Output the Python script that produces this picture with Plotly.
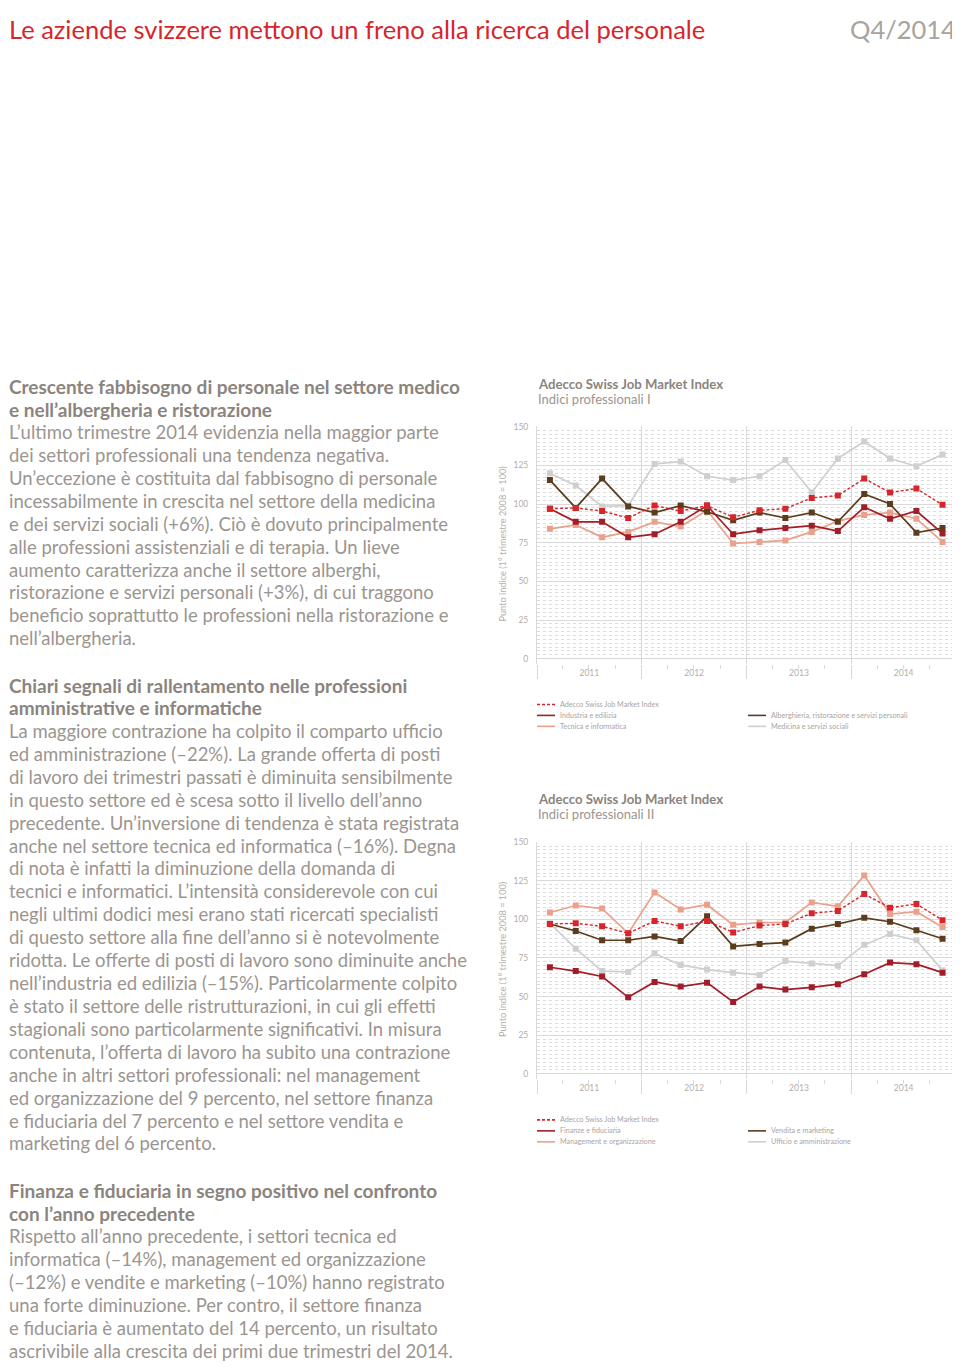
import plotly.graph_objects as go

# page offset compensation (browser body margin)
OX, OY = 8, 8
W, H = 960 - OX, 1366 - OY
def px(x): return (x - OX) / W
def py(y): return 1 - (y - OY) / H

# ---------------- data ----------------
quarters = ["2011-02-15", "2011-05-16", "2011-08-16", "2011-11-15",
            "2012-02-15", "2012-05-16", "2012-08-16", "2012-11-15",
            "2013-02-15", "2013-05-16", "2013-08-16", "2013-11-15",
            "2014-02-15", "2014-05-16", "2014-08-16", "2014-11-15"]

index_total = [97, 97.5, 95.5, 91, 99, 95.5, 99, 91.5, 96, 97, 104, 105.5, 116.5, 107.5, 110, 99.5]

industria = [97, 88.5, 88.5, 78.5, 80.5, 88.5, 99, 80.5, 83, 84.5, 86, 82.5, 98, 90.5, 95.5, 81]
tecnica = [84, 86.5, 78.5, 82, 88.5, 85.5, 96, 74.5, 75.5, 76.5, 82, 89, 93, 94.5, 90.5, 75.5]
alberghieria = [115.5, 97.5, 116.5, 98.5, 94.5, 99, 95, 89.5, 94.5, 91, 94.5, 88.5, 106.5, 100, 81.5, 84.5]
medicina = [120, 112, 98.5, 99, 126, 127.5, 118, 115.5, 118, 128.5, 107.5, 129.5, 140.5, 129.5, 124.5, 132]

finanze = [69, 66.5, 63, 49.5, 59.5, 56.5, 59, 46.5, 56.5, 54.5, 56, 58, 64.5, 72, 71, 65.5]
management = [104.5, 109, 107, 91, 117.5, 106.5, 109.5, 96.5, 98, 98, 111, 108.5, 128.5, 103.5, 105, 95]
vendita = [97, 92.5, 86.5, 86.5, 89, 86, 102, 82.5, 84, 85, 94, 97, 101, 98.5, 93, 87.5]
ufficio = [97.5, 81, 66.5, 66, 78, 70.5, 67.5, 65.5, 64, 73, 71.5, 70, 83.5, 90.5, 86.5, 67]

y_ticks = [0, 25, 50, 75, 100, 125, 150]

# ---------------- styles ----------------
RED = "#d7262b"
DARKRED = "#a11d27"
SALMON = "#eaa08b"
BROWN = "#5b3c1c"
LGREY = "#cfcfcf"
GRID = "#d9d9d9"
TXT = "#9b9590"
HEAD = "#8b847e"
AX = "#b3ada8"
FONT = "Lato"

fig = go.Figure()

def add_series(xa, ya, name, vals, color, dash="solid", width=1.7):
    fig.add_trace(go.Scatter(
        x=quarters, y=vals, name=name, mode="lines+markers",
        xaxis=xa, yaxis=ya, showlegend=False,
        line=dict(color=color, width=width, dash=dash),
        marker=dict(symbol="square", size=6, color=color)))

# chart 1
add_series("x", "y", "Medicina e servizi sociali", medicina, LGREY)
add_series("x", "y", "Tecnica e informatica", tecnica, SALMON)
add_series("x", "y", "Alberghieria, ristorazione e servizi personali", alberghieria, BROWN)
add_series("x", "y", "Industria e edilizia", industria, DARKRED)
add_series("x", "y", "Adecco Swiss Job Market Index", index_total, RED, dash="3px,2px", width=1.4)
# chart 2
add_series("x2", "y2", "Ufficio e amministrazione", ufficio, LGREY)
add_series("x2", "y2", "Management e organizzazione", management, SALMON)
add_series("x2", "y2", "Vendita e marketing", vendita, BROWN)
add_series("x2", "y2", "Finanze e fiduciaria", finanze, DARKRED)
add_series("x2", "y2", "Adecco Swiss Job Market Index", index_total, RED, dash="3px,2px", width=1.4)

minor_y = [v * 2.5 for v in range(61) if (v * 2.5) % 25 != 0]

def yaxis_cfg(top, bottom, anchor):
    return dict(
        domain=[py(bottom), py(top)], anchor=anchor,
        range=[-3.2, 150.2], tickmode="array", tickvals=y_ticks,
        showgrid=True, gridcolor=GRID, gridwidth=1, zeroline=False,
        ticks="", showline=True, mirror=True, linecolor=GRID, linewidth=1,
        tickfont=dict(family=FONT, size=8.5, color=AX), ticklabelstandoff=6,
        minor=dict(tickmode="array", tickvals=minor_y, showgrid=True,
                   gridcolor="#dcdcdc", griddash="dot", gridwidth=1, ticks=""),
        fixedrange=True)

def xaxis_cfg(anchor):
    return dict(
        domain=[px(537), px(956)], anchor=anchor, type="date",
        range=["2011-01-01", "2015-01-01"],
        tick0="2011-01-01", dtick="M12", ticklabelmode="period",
        tickformat="%Y", ticks="outside", ticklen=14, tickcolor=GRID, tickwidth=1,
        showgrid=True, gridcolor=GRID, gridwidth=1, showline=False, zeroline=False,
        tickfont=dict(family=FONT, size=8.5, color=AX), ticklabelstandoff=-13,
        minor=dict(tick0="2011-01-01", dtick="M3", ticks="outside", ticklen=4,
                   tickcolor=GRID, showgrid=False),
        fixedrange=True)

fig.update_layout(
    width=W, height=H, autosize=False,
    margin=dict(l=0, r=0, t=0, b=0),
    paper_bgcolor="white", plot_bgcolor="white",
    showlegend=False,
    font=dict(family=FONT, color=TXT),
    xaxis=xaxis_cfg("y"), yaxis=yaxis_cfg(423, 661, "x"),
    xaxis2=xaxis_cfg("y2"), yaxis2=yaxis_cfg(840, 1077.6, "x2"),
)

ann = []
shapes = []

def text(x, y, s, size=18.5, color=TXT, bold=False, xanchor="left", angle=0,
         family=FONT, yanchor="middle"):
    if bold:
        s = "<b>" + s + "</b>"
    if angle == 0 and yanchor == "middle":
        y = y - 0.13 * size
    ann.append(dict(x=px(x), y=py(y), xref="paper", yref="paper", text=s,
                    showarrow=False, xanchor=xanchor, yanchor=yanchor, borderpad=0,
                    textangle=angle, font=dict(family=family, size=size, color=color)))

# page title (anchored to the top edge of the figure)
text(8, OY, "Le aziende svizzere mettono un freno alla ricerca del personale",
     size=25.5, color=RED, yanchor="top")
text(957, OY, "Q4/2014", size=25.5, color="#a9a39e", xanchor="right", yanchor="top")

# left column text
blocks = [
    (385, ["Crescente fabbisogno di personale nel settore medico",
           "e nell’albergheria e ristorazione"],
     ["L’ultimo trimestre 2014 evidenzia nella maggior parte",
      "dei settori professionali una tendenza negativa.",
      "Un’eccezione è costituita dal fabbisogno di personale",
      "incessabilmente in crescita nel settore della medicina",
      "e dei servizi sociali (+6%). Ciò è dovuto principalmente",
      "alle professioni assistenziali e di terapia. Un lieve",
      "aumento caratterizza anche il settore alberghi,",
      "ristorazione e servizi personali (+3%), di cui traggono",
      "beneficio soprattutto le professioni nella ristorazione e",
      "nell’albergheria."]),
    (685, ["Chiari segnali di rallentamento nelle professioni",
           "amministrative e informatiche"],
     ["La maggiore contrazione ha colpito il comparto ufficio",
      "ed amministrazione (–22%). La grande offerta di posti",
      "di lavoro dei trimestri passati è diminuita sensibilmente",
      "in questo settore ed è scesa sotto il livello dell’anno",
      "precedente. Un’inversione di tendenza è stata registrata",
      "anche nel settore tecnica ed informatica (–16%). Degna",
      "di nota è infatti la diminuzione della domanda di",
      "tecnici e informatici. L’intensità considerevole con cui",
      "negli ultimi dodici mesi erano stati ricercati specialisti",
      "di questo settore alla fine dell’anno si è notevolmente",
      "ridotta. Le offerte di posti di lavoro sono diminuite anche",
      "nell’industria ed edilizia (–15%). Particolarmente colpito",
      "è stato il settore delle ristrutturazioni, in cui gli effetti",
      "stagionali sono particolarmente significativi. In misura",
      "contenuta, l’offerta di lavoro ha subito una contrazione",
      "anche in altri settori professionali: nel management",
      "ed organizzazione del 9 percento, nel settore finanza",
      "e fiduciaria del 7 percento e nel settore vendita e",
      "marketing del 6 percento."]),
    (1192, ["Finanza e fiduciaria in segno positivo nel confronto",
            "con l’anno precedente"],
     ["Rispetto all’anno precedente, i settori tecnica ed",
      "informatica (–14%), management ed organizzazione",
      "(–12%) e vendite e marketing (–10%) hanno registrato",
      "una forte diminuzione. Per contro, il settore finanza",
      "e fiduciaria è aumentato del 14 percento, un risultato",
      "ascrivibile alla crescita dei primi due trimestri del 2014."]),
]
for y0, heads, body in blocks:
    y = y0
    for h in heads:
        text(8, y, h, size=19, bold=True, color=HEAD)
        y += 23
    for b in body:
        text(8, y, b)
        y += 23

# chart titles & y-axis labels
def chart_header(ytitle, sub, ylabel_y):
    text(537, ytitle, "Adecco Swiss Job Market Index", size=13.2, color=HEAD, bold=True)
    text(537, ytitle + 15.5, sub, size=13, color=TXT)
    text(496, ylabel_y, "Punto indice (1° trimestre 2008 = 100)", size=9.2, color=AX, angle=-90)

chart_header(382, "Indici professionali I", 540)
chart_header(798.5, "Indici professionali II", 957)

# legends
def legend_item(x, y, color, label, dash=None):
    shapes.append(dict(type="line", xref="paper", yref="paper",
                       x0=px(x), x1=px(x + 18), y0=py(y - 1), y1=py(y - 1),
                       line=dict(color=color, width=1.6, dash=dash or "solid")))
    text(x + 22, y, label, size=7.2, color="#aaa49f")

legend_item(537, 703, RED, "Adecco Swiss Job Market Index", dash="3px,2px")
legend_item(537, 714, DARKRED, "Industria e edilizia")
legend_item(537, 725, SALMON, "Tecnica e informatica")
legend_item(748, 714, BROWN, "Alberghieria, ristorazione e servizi personali")
legend_item(748, 725, LGREY, "Medicina e servizi sociali")

legend_item(537, 1120, RED, "Adecco Swiss Job Market Index", dash="3px,2px")
legend_item(537, 1131, DARKRED, "Finanze e fiduciaria")
legend_item(537, 1142, SALMON, "Management e organizzazione")
legend_item(748, 1131, BROWN, "Vendita e marketing")
legend_item(748, 1142, LGREY, "Ufficio e amministrazione")

fig.update_layout(annotations=ann, shapes=shapes)
fig.write_html("out.html")
